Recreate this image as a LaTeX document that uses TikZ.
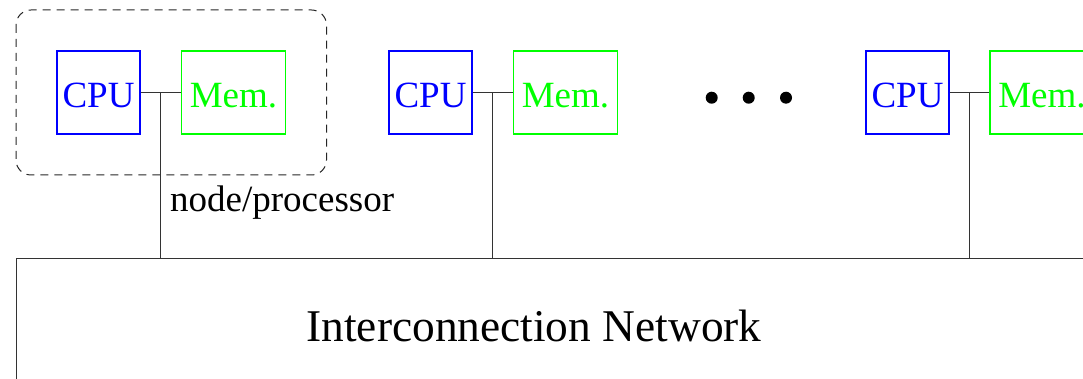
\documentclass[tikz,border=0pt]{standalone}
\usepackage{fontspec}
\setmainfont{Liberation Serif}
\tikzset{
  every picture/.style={x=1pt,y=-1pt},
  cpubox/.style={draw=blue, text=blue, line width=1.1pt, minimum width=83pt, minimum height=83pt,
    inner sep=0pt, text height=30pt, text depth=0pt, font=\fontsize{37}{44}\selectfont},
  membox/.style={draw=green, text=green, line width=1.1pt, minimum width=104pt, minimum height=83pt,
    inner sep=0pt, text height=30pt, text depth=0pt, font=\fontsize{37}{44}\selectfont},
  wire/.style={draw=black!80, line width=1pt},
  dotnode/.style={circle, fill=black, inner sep=0pt, minimum size=12pt},
  groupbox/.style={draw=black!85, line width=1pt, dash pattern=on 8pt off 6pt, rounded corners=15pt}
}
\begin{document}
\begin{tikzpicture}
\useasboundingbox (0,0) rectangle (1083,379);
\clip (0,0) rectangle (1083,379);
% processors
\node[cpubox] (cpu1) at (98.5,92.5) {CPU};
\node[membox] (mem1) at (233.5,92.5) {Mem.};
\node[cpubox] (cpu2) at (430.5,92.5) {CPU};
\node[membox] (mem2) at (565.5,92.5) {Mem.};
\node[cpubox] (cpu3) at (907.5,92.5) {CPU};
\node[membox] (mem3) at (1042,92.5) {Mem.};
% dashed group
\draw[groupbox] (16,10) rectangle (326.5,175);
% dots
\node[dotnode] (d1) at (711.7,97.7) {};
\node[dotnode] (d2) at (748.7,97.7) {};
\node[dotnode] (d3) at (786,97.7) {};
% network
\node[draw=black!80, line width=1pt, anchor=north west, minimum width=1200pt, minimum height=200pt, inner sep=0pt] (net) at (16,258) {};
\node[anchor=base, font=\fontsize{45.4}{54}\selectfont] (netlabel) at (534,341.7) {Interconnection Network};
\node[anchor=base west, font=\fontsize{37}{44}\selectfont, inner sep=0pt] (np) at (170,211.7) {node/processor};
% wires
\foreach \i in {1,2,3} {
  \draw[wire] (cpu\i.east) -- (mem\i.west) coordinate[midway] (j\i);
  \draw[wire] (j\i) -- (j\i |- net.north);
}
\end{tikzpicture}
\end{document}
